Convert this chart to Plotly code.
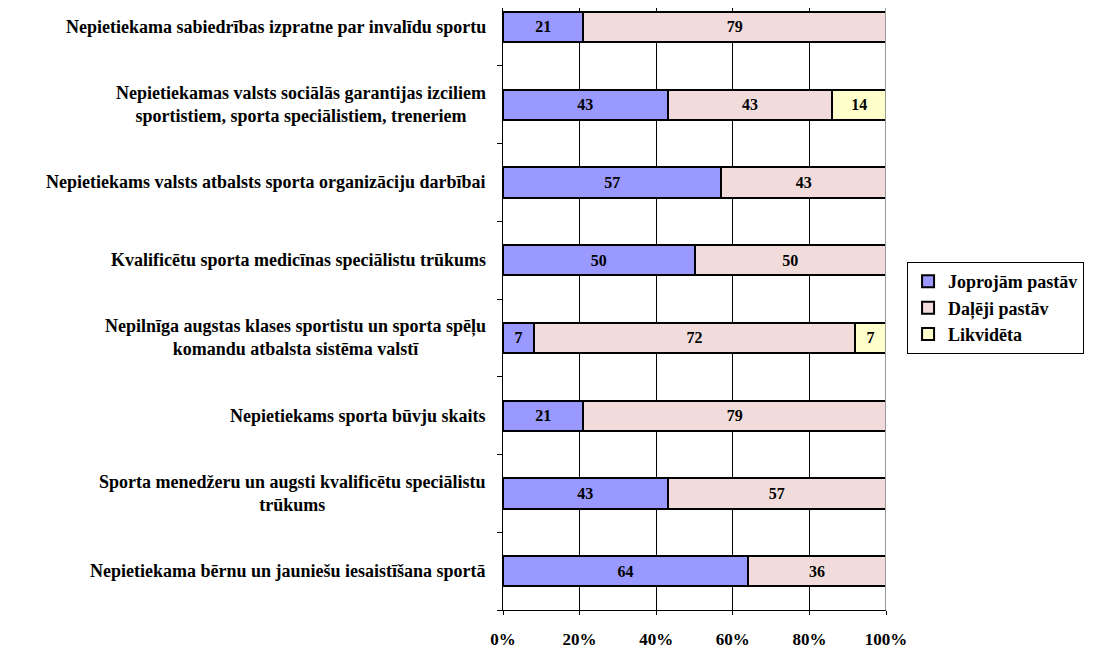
import plotly.graph_objects as go

categories = [
    "Nepietiekama sabiedrības izpratne par invalīdu sportu",
    "Nepietiekamas valsts sociālās garantijas izciliem<br>sportistiem, sporta speciālistiem, treneriem",
    "Nepietiekams valsts atbalsts sporta organizāciju darbībai",
    "Kvalificētu sporta medicīnas speciālistu trūkums",
    "Nepilnīga augstas klases sportistu un sporta spēļu<br>komandu atbalsta sistēma valstī",
    "Nepietiekams sporta būvju skaits",
    "Sporta menedžeru un augsti kvalificētu speciālistu<br>trūkums",
    "Nepietiekama bērnu un jauniešu iesaistīšana sportā",
]
series_names = ["Joprojām pastāv", "Daļēji pastāv", "Likvidēta"]
joprojam = [21, 43, 57, 50, 7, 21, 43, 64]
daleji = [79, 43, 43, 50, 72, 79, 57, 36]
likvideta = [0, 14, 0, 0, 7, 0, 0, 0]
colors = ["#9999FF", "#F2DCDB", "#FFFFCC"]
x_tick_vals = [0, 20, 40, 60, 80, 100]
x_tick_text = ["0%", "20%", "40%", "60%", "80%", "100%"]

FONT = "'Liberation Serif', 'Times New Roman', serif"

fig = go.Figure()
for name, vals, col in zip(series_names, [joprojam, daleji, likvideta], colors):
    fig.add_trace(go.Bar(
        y=categories, x=vals, name=name, orientation="h",
        marker=dict(color=col, line=dict(color="black", width=2)),
        text=[str(v) if v else "" for v in vals],
        textposition="inside", insidetextanchor="middle",
        textfont=dict(family=FONT, size=16, color="black", weight="bold"),
        width=0.39,
    ))

fig.update_layout(
    barmode="stack", barnorm="percent",
    width=1089, height=640,
    margin=dict(l=495, r=211, t=0, b=38),
    paper_bgcolor="white", plot_bgcolor="white",
    font=dict(family=FONT, color="black"),
    showlegend=True,
    legend=dict(
        x=1.055, y=0.578, xanchor="left", yanchor="top",
        bordercolor="black", borderwidth=1,
        font=dict(family=FONT, size=18, color="black", weight="bold"),
        traceorder="normal", itemwidth=30, tracegroupgap=0,
    ),
    uniformtext=dict(mode="show", minsize=10),
)
fig.update_xaxes(
    range=[0, 100], tickvals=x_tick_vals, ticktext=x_tick_text,
    showgrid=True, gridcolor="black", gridwidth=1,
    showline=True, linecolor="black", linewidth=1,
    ticks="outside", ticklen=4, tickcolor="black",
    ticklabelstandoff=10, automargin=False,
    tickfont=dict(family=FONT, size=17, color="black", weight="bold"),
    zeroline=False, fixedrange=True,
)
fig.update_yaxes(
    categoryorder="array", categoryarray=categories[::-1],
    range=[-0.5, 7.244],
    showticklabels=False, tickson="boundaries",
    ticks="outside", ticklen=5, tickcolor="black",
    showline=True, linecolor="black", linewidth=1,
    showgrid=False, automargin=False,
)
fig.add_shape(type="line", xref="x", yref="paper", x0=100, x1=100, y0=0, y1=1,
              line=dict(color="#999999", width=2), layer="above")
for cat in categories:
    fig.add_annotation(
        x=0, y=cat, xref="x", yref="y", text=cat, showarrow=False,
        xanchor="right", align="center", xshift=-15,
        font=dict(family=FONT, size=18, color="black", weight="bold"),
    )

fig.write_html("out.html")
